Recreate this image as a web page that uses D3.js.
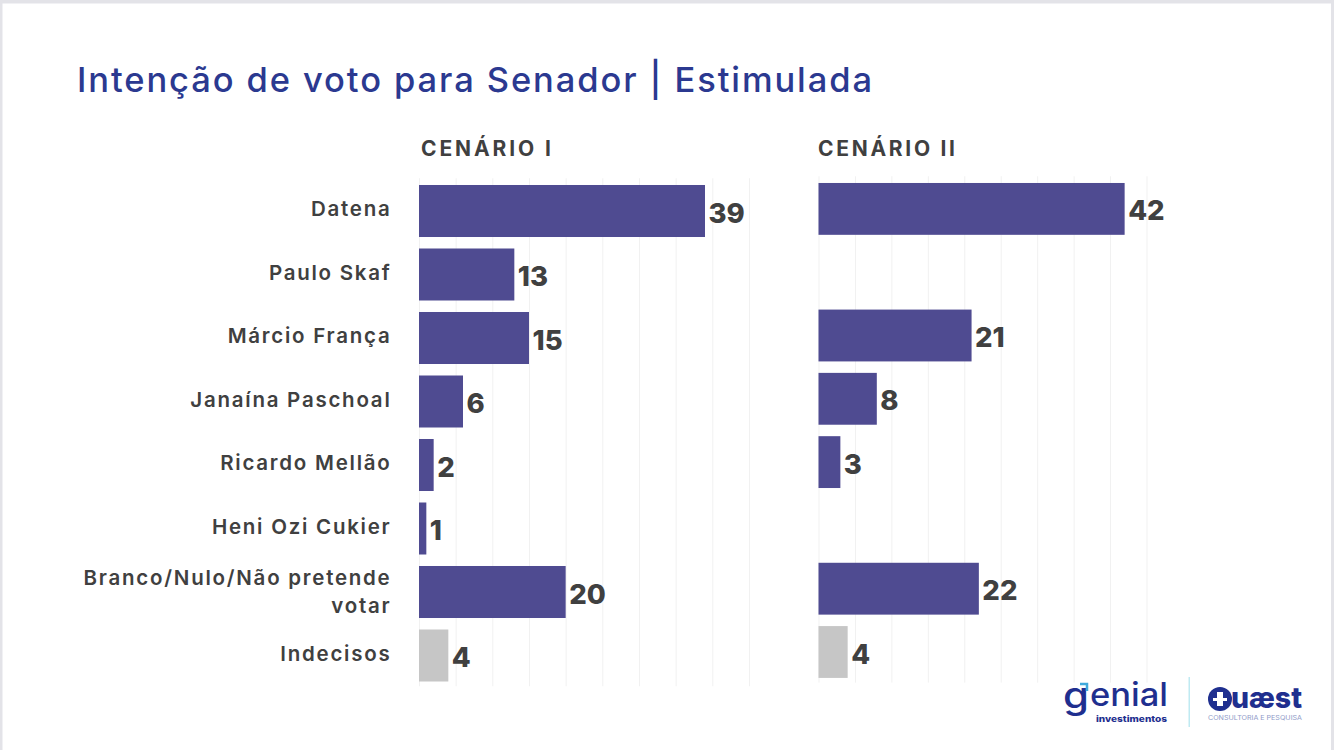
<!DOCTYPE html>
<html lang="pt"><head><meta charset="utf-8">
<script src="https://cdn.jsdelivr.net/npm/d3@7"></script>
<style>html,body{margin:0;padding:0;background:#fff;overflow:hidden}svg{display:block}text{font-family:Inter,sans-serif}</style>
</head><body><svg id="c" width="1334" height="750"></svg>
<script>
const categories=["Datena","Paulo Skaf","Márcio França","Janaína Paschoal","Ricardo Mellão","Heni Ozi Cukier","Branco/Nulo/Não pretende votar","Indecisos"];
const cenario1=[39,13,15,6,2,1,20,4];
const cenario2=[42,null,21,8,3,null,22,4];
const gridTicks=[0,5,10,15,20,25,30,35,40,45];
const title="Intenção de voto para Senador | Estimulada";
const panelTitles=["CENÁRIO I","CENÁRIO II"];
const PURPLE="#4f4b91",GREY="#c6c6c6",INK="#404040",NAVY="#1f2f8f";
const svg=d3.select("#c");
svg.append("rect").attr("width",1334).attr("height",750).attr("fill","#e3e3e8");
svg.append("rect").attr("x",2.5).attr("y",3.5).attr("width",1328.5).attr("height",747).attr("fill","#fff");
svg.append("text").attr("x",77).attr("y",92).attr("fill","#2b3990").attr("font-size",34.5).attr("font-weight",500).attr("textLength",795).text(title);
function panel(values,x0,x1,y0,y1,name,tx,ty,tw,labels){
  const x=d3.scaleLinear().domain([0,45]).range([x0,x1]);
  const y=d3.scaleBand().domain(categories).range([y0,y1]).paddingInner(0.181).paddingOuter(0.0905);
  const g=svg.append("g");
  const grid=g.append("g").attr("transform",`translate(0,${y1-1})`)
    .call(d3.axisBottom(x).tickValues(gridTicks).tickSize(-(y1-y0)).tickFormat(""));
  grid.select(".domain").remove();
  grid.selectAll("line").attr("stroke","#f1f1f1").attr("stroke-width",1);
  const rows=categories.map((c,i)=>({c,v:values[i]})).filter(d=>d.v!==null);
  g.selectAll("rect.b").data(rows).join("rect").attr("class","b")
    .attr("x",x(0)).attr("y",d=>y(d.c)).attr("width",d=>x(d.v)-x(0)).attr("height",y.bandwidth())
    .attr("fill",d=>d.c==="Indecisos"?GREY:PURPLE);
  g.selectAll("text.v").data(rows).join("text").attr("class","v")
    .attr("x",d=>x(d.v)+3.5).attr("y",d=>y(d.c)+y.bandwidth()/2+11.5)
    .attr("fill",INK).attr("font-size",27.5).attr("font-weight",800).text(d=>d.v);
  svg.append("text").attr("x",tx).attr("y",ty).attr("fill",INK).attr("font-size",21).attr("font-weight",700).attr("textLength",tw).text(name);
  if(labels){
    const lab=svg.append("g").attr("fill",INK).attr("font-size",20.5).attr("font-weight",600).attr("letter-spacing",1.75).attr("text-anchor","end");
    categories.forEach(c=>{
      const cy=y(c)+y.bandwidth()/2-1;
      if(c.startsWith("Branco")){
        lab.append("text").attr("x",391.5).attr("y",cy-6).text("Branco/Nulo/Não pretende");
        lab.append("text").attr("x",391.5).attr("y",cy+22).text("votar");
      } else lab.append("text").attr("x",391.5).attr("y",cy+6).text(c);
    });
  }
}
panel(cenario1,419,749,179.25,687.25,panelTitles[0],421,156,130,true);
panel(cenario2,818.5,1146.5,177.25,683.65,panelTitles[1],818,156,137,false);
// logos
const lg=svg.append("g");
lg.append("text").attr("x",1063).attr("y",708).attr("fill",NAVY).attr("font-size",36).attr("font-weight",500).attr("textLength",26).attr("lengthAdjust","spacingAndGlyphs").text("g");
lg.append("text").attr("x",1090).attr("y",706).attr("fill",NAVY).attr("font-size",32).attr("font-weight",500).attr("textLength",78).attr("lengthAdjust","spacingAndGlyphs").text("enial");
lg.append("path").attr("d","M1080 684h7v7").attr("fill","none").attr("stroke","#3fa9dc").attr("stroke-width",2.5);
lg.append("text").attr("x",1096).attr("y",722).attr("fill",NAVY).attr("font-size",8.5).attr("font-weight",800).attr("textLength",71).attr("lengthAdjust","spacingAndGlyphs").text("investimentos");
lg.append("rect").attr("x",1188.5).attr("y",677).attr("width",1.5).attr("height",50).attr("fill","#bfeaf2");
lg.append("circle").attr("cx",1220).attr("cy",699).attr("r",12).attr("fill",NAVY);
lg.append("path").attr("d","M1217 692h6v14h-6zM1213 698h14v3h-14z").attr("fill","#fff");
lg.append("text").attr("x",1231).attr("y",708).attr("fill",NAVY).attr("font-size",29).attr("font-weight",800).attr("textLength",71).attr("lengthAdjust","spacingAndGlyphs").text("uæst");
lg.append("text").attr("x",1208).attr("y",720).attr("fill","#8f9ac8").attr("font-size",6.5).attr("textLength",94).attr("lengthAdjust","spacingAndGlyphs").text("CONSULTORIA E PESQUISA");
</script></body></html>
